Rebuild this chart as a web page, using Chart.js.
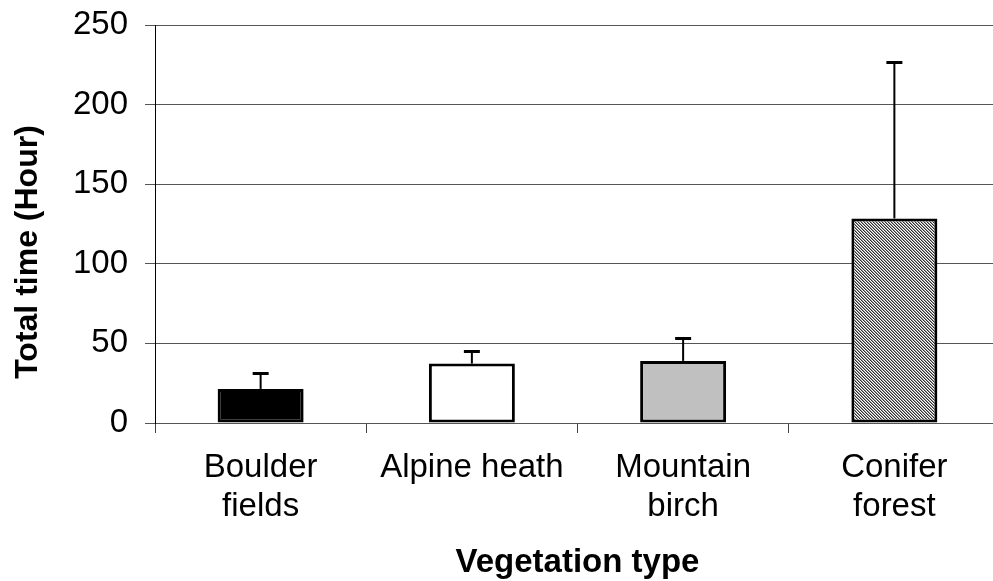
<!DOCTYPE html>
<html>
<head>
<meta charset="utf-8">
<script src="https://cdn.jsdelivr.net/npm/chart.js@4"></script>
<style>
  html, body { margin: 0; padding: 0; background: #fff; overflow: hidden; }
  #wrap { position: relative; width: 1001px; height: 581px; }
</style>
</head>
<body>
<div id="wrap"><canvas id="vegChart"></canvas></div>
<script>
const categories = [["Boulder", "fields"], "Alpine heath", ["Mountain", "birch"], ["Conifer", "forest"]];
const meanHours = [21.4, 37.3, 39.0, 128.5];
const errUpper = [10, 7.8, 14.7, 98];
const yTicks = [0, 50, 100, 150, 200, 250];

const FONT = "'Liberation Sans', Arial, sans-serif";

// fine diagonal hatch for the conifer bar
function hatch() {
  const c = document.createElement("canvas");
  c.width = 3; c.height = 3;
  const g = c.getContext("2d");
  const shades = ["#303030", "#9a9a9a", "#ffffff"];
  for (let yy = 0; yy < 3; yy++) {
    for (let xx = 0; xx < 3; xx++) {
      g.fillStyle = shades[((xx - yy) % 3 + 3) % 3];
      g.fillRect(xx, yy, 1, 1);
    }
  }
  return g.createPattern(c, "repeat");
}

const fills = ["#000000", "#ffffff", "#c0c0c0", hatch()];

const errorBars = {
  id: "errorBars",
  afterDatasetsDraw(chart) {
    const { ctx, scales } = chart;
    const meta = chart.getDatasetMeta(0);
    ctx.save();
    ctx.strokeStyle = "#000";
    meta.data.forEach((bar, i) => {
      const top = Math.round(scales.y.getPixelForValue(meanHours[i] + errUpper[i])) + 0.5;
      ctx.lineWidth = 2;
      ctx.beginPath();
      ctx.moveTo(bar.x, bar.y);
      ctx.lineTo(bar.x, top);
      ctx.stroke();
      ctx.lineWidth = 3;
      ctx.beginPath();
      ctx.moveTo(bar.x - 8, top);
      ctx.lineTo(bar.x + 8, top);
      ctx.stroke();
    });
    ctx.restore();
  }
};

const yTitle = {
  id: "yTitle",
  afterDraw(chart) {
    const ctx = chart.ctx;
    ctx.save();
    ctx.translate(28, 252);
    ctx.rotate(-Math.PI / 2);
    ctx.font = "bold 32px " + FONT;
    ctx.fillStyle = "#000";
    ctx.textAlign = "center";
    ctx.textBaseline = "middle";
    ctx.fillText("Total time (Hour)", 0, 0);
    ctx.restore();
  }
};

new Chart(document.getElementById("vegChart"), {
  type: "bar",
  data: {
    labels: categories,
    datasets: [{
      data: meanHours,
      backgroundColor: fills,
      borderColor: "#000",
      borderWidth: 3,
      borderSkipped: false,
      barPercentage: 0.407,
      categoryPercentage: 1
    }]
  },
  options: {
    responsive: true,
    maintainAspectRatio: false,
    animation: false,
    events: [],
    layout: { padding: { left: 10, top: 25, right: 1 } },
    plugins: { legend: { display: false }, tooltip: { enabled: false } },
    scales: {
      x: {
        afterFit: s => { s.height = 158; s.paddingLeft = 0; s.paddingRight = 0; },
        grid: { offset: true, drawOnChartArea: false, color: "#444", tickLength: 10 },
        border: { color: "#555", width: 1 },
        ticks: { color: "#000", font: { family: FONT, size: 33, lineHeight: 1.18 }, padding: 15, maxRotation: 0 },
        title: {
          display: true,
          text: "Vegetation type",
          color: "#000",
          font: { family: FONT, size: 33, weight: "bold", lineHeight: 1.1 },
          padding: { top: 0, bottom: 0 }
        }
      },
      y: {
        min: 0,
        max: 250,
        afterBuildTicks: s => { s.ticks = yTicks.map(v => ({ value: v })); },
        afterFit: s => { s.width = 145; s.paddingTop = 0; s.paddingBottom = 0; },
        grid: { color: "#555", tickLength: 10 },
        border: { color: "#000", width: 1 },
        ticks: { color: "#000", font: { family: FONT, size: 33 }, padding: 17 }
      }
    }
  },
  plugins: [errorBars, yTitle]
});
</script>
</body>
</html>
